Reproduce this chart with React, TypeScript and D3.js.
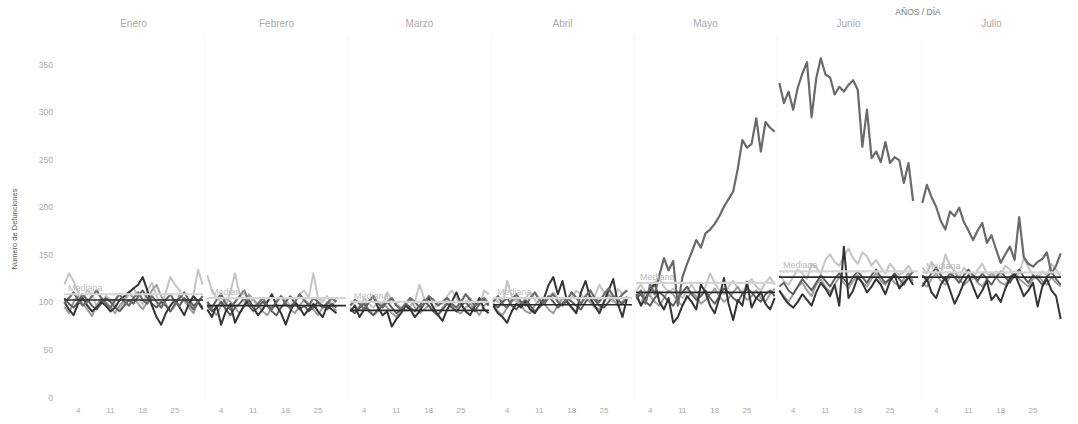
import React from "react";
import * as d3 from "d3";

const months = ["Enero", "Febrero", "Marzo", "Abril", "Mayo", "Junio", "Julio"];
const dayTicks = [4, 11, 18, 25];
const yTicks = [0, 50, 100, 150, 200, 250, 300, 350];

// Historical series (one array per month)
const serieA = [
  [118, 130, 122, 110, 104, 112, 108, 95, 100, 106, 103, 98, 92, 100, 108, 115, 104, 97, 112, 120, 106, 98, 110, 126, 118, 112, 100, 96, 108, 134, 118],
  [128, 112, 104, 100, 96, 110, 130, 108, 100, 98, 104, 96, 92, 100, 106, 98, 94, 102, 96, 100, 108, 112, 104, 130, 104, 100, 106, 96, 102],
  [100, 96, 92, 104, 98, 94, 100, 96, 110, 102, 98, 94, 90, 96, 100, 118, 104, 96, 92, 100, 98, 106, 112, 104, 96, 100, 104, 98, 96, 112, 108],
  [104, 100, 96, 122, 106, 100, 98, 104, 110, 102, 96, 100, 106, 110, 104, 100, 98, 104, 112, 108, 102, 100, 106, 118, 110, 104, 100, 114, 108, 112],
  [112, 118, 110, 106, 120, 124, 116, 110, 114, 108, 104, 112, 118, 110, 106, 116, 130, 120, 112, 108, 116, 122, 114, 110, 118, 124, 116, 112, 120, 126, 118],
  [128, 122, 118, 126, 134, 130, 124, 140, 136, 130, 144, 150, 142, 138, 148, 156, 146, 140, 152, 148, 138, 144, 136, 130, 140, 134, 128, 132, 138, 130],
  [136, 130, 142, 134, 128, 150, 138, 132, 126, 136, 130, 124, 134, 140, 130, 126, 132, 128, 138, 134, 126, 130, 146, 136, 128, 124, 132, 128, 140, 134, 126],
];
const serieB = [
  [95, 88, 100, 106, 98, 92, 85, 96, 104, 100, 94, 88, 96, 102, 110, 104, 98, 92, 100, 112, 118, 106, 98, 90, 96, 108, 102, 94, 88, 100, 106],
  [98, 92, 86, 96, 104, 100, 94, 88, 96, 108, 102, 96, 90, 86, 94, 100, 106, 98, 92, 88, 96, 102, 98, 92, 86, 94, 100, 96, 90],
  [94, 88, 96, 100, 92, 86, 90, 98, 94, 88, 84, 92, 98, 102, 94, 88, 92, 96, 90, 86, 94, 100, 96, 90, 88, 94, 98, 92, 86, 96, 100],
  [96, 90, 86, 94, 100, 104, 96, 90, 88, 96, 102, 98, 92, 88, 96, 104, 100, 94, 90, 98, 106, 100, 94, 92, 100, 108, 102, 96, 100, 106],
  [104, 98, 110, 106, 100, 96, 104, 112, 108, 100, 96, 104, 110, 106, 98, 102, 108, 114, 106, 100, 104, 110, 116, 108, 102, 106, 112, 104, 100, 108, 114],
  [112, 106, 100, 108, 116, 120, 112, 106, 118, 124, 116, 110, 118, 126, 120, 114, 122, 128, 120, 116, 124, 130, 122, 118, 126, 120, 116, 124, 130, 122],
  [120, 116, 124, 130, 122, 118, 126, 132, 124, 118, 122, 128, 120, 116, 124, 130, 126, 120, 118, 126, 132, 124, 120, 116, 124, 128, 122, 118, 126, 120, 116],
];
const serieC = [
  [100, 92, 86, 98, 104, 96, 90, 94, 100, 96, 90, 94, 102, 106, 110, 114, 118, 126, 112, 96, 84, 76, 88, 96, 102, 94, 86, 98, 106, 100, 92],
  [92, 84, 96, 76, 90, 98, 78, 88, 96, 102, 94, 86, 92, 100, 108, 96, 88, 76, 90, 100, 94, 86, 92, 98, 90, 84, 96, 92, 88],
  [90, 96, 84, 92, 100, 106, 94, 86, 90, 74, 82, 88, 96, 92, 84, 90, 98, 104, 94, 86, 80, 92, 100, 110, 98, 90, 86, 96, 104, 92, 88],
  [96, 88, 84, 78, 90, 98, 94, 100, 92, 88, 96, 104, 118, 126, 108, 122, 100, 94, 88, 110, 122, 104, 96, 88, 100, 112, 124, 98, 84, 104],
  [108, 96, 104, 112, 120, 100, 92, 104, 78, 84, 96, 106, 100, 92, 118, 110, 96, 88, 104, 125, 98, 81, 102, 96, 121, 94, 104, 110, 98, 92, 104],
  [112, 104, 98, 94, 100, 108, 102, 96, 110, 120, 114, 106, 118, 96, 158, 104, 112, 126, 120, 110, 116, 124, 118, 108, 122, 128, 114, 120, 126, 118],
  [116, 124, 110, 104, 118, 126, 112, 98, 108, 120, 128, 116, 104, 112, 122, 102, 108, 100, 114, 124, 130, 118, 106, 112, 120, 95, 116, 124, 112, 106, 82],
];
const serieD = [
  [104, 98, 94, 100, 108, 102, 96, 92, 98, 104, 100, 94, 90, 96, 102, 98, 106, 112, 104, 98, 94, 100, 96, 90, 98, 104, 110, 102, 96, 100, 94],
  [96, 90, 94, 100, 92, 86, 94, 98, 104, 96, 90, 94, 100, 96, 90, 86, 94, 100, 106, 98, 92, 96, 90, 94, 100, 96, 92, 98, 94],
  [92, 88, 94, 98, 90, 86, 92, 96, 100, 94, 88, 92, 98, 94, 90, 96, 102, 96, 90, 86, 92, 98, 94, 90, 96, 100, 94, 90, 98, 102, 96],
  [98, 94, 100, 104, 96, 92, 98, 102, 96, 90, 94, 100, 106, 100, 94, 98, 104, 100, 96, 92, 100, 106, 102, 96, 94, 100, 106, 102, 98, 104],
  [104, 108, 100, 96, 104, 110, 106, 100, 96, 104, 110, 116, 108, 102, 106, 112, 104, 98, 106, 114, 110, 104, 100, 108, 114, 110, 104, 100, 108, 112, 106],
  [116, 120, 112, 108, 116, 124, 118, 112, 120, 128, 122, 116, 124, 130, 124, 118, 126, 132, 126, 120, 128, 134, 126, 120, 124, 130, 124, 118, 126, 132],
  [128, 122, 130, 136, 128, 122, 130, 126, 120, 128, 134, 128, 122, 130, 124, 118, 126, 132, 126, 120, 128, 134, 126, 120, 128, 124, 118, 126, 132, 124, 118],
];
// Current year (with the peak)
const serie2020 = [
  [98, 104, 110, 102, 96, 100, 106, 112, 104, 98, 94, 102, 108, 100, 96, 104, 110, 102, 98, 106, 100, 94, 102, 108, 100, 96, 104, 98, 92, 100, 106],
  [100, 94, 102, 108, 98, 92, 100, 106, 112, 100, 94, 98, 104, 96, 92, 100, 106, 98, 94, 100, 108, 102, 96, 104, 100, 94, 98, 104, 100],
  [96, 102, 98, 92, 100, 106, 98, 94, 100, 104, 96, 92, 98, 104, 100, 94, 98, 106, 102, 96, 100, 104, 98, 94, 100, 108, 102, 96, 100, 104, 98],
  [100, 106, 98, 94, 102, 108, 100, 96, 104, 110, 102, 98, 104, 108, 100, 96, 102, 110, 104, 98, 106, 112, 104, 100, 108, 114, 106, 102, 108, 112],
  [105, 112, 98, 118, 108, 128, 146, 133, 143, 96, 126, 140, 152, 165, 157, 172, 176, 182, 190, 200, 208, 216, 240, 270, 262, 266, 293, 258, 289, 283, 279],
  [330, 309, 321, 302, 325, 340, 352, 294, 335, 356, 339, 336, 318, 326, 321, 328, 333, 323, 263, 302, 251, 258, 247, 268, 246, 252, 249, 225, 246, 206],
  [204, 223, 210, 200, 185, 176, 195, 190, 199, 184, 175, 165, 175, 183, 162, 170, 155, 141, 150, 158, 144, 189, 147, 140, 137, 142, 145, 152, 130, 138, 151],
];
const medianaMes = [108, 104, 100, 104, 120, 132, 131];
const promedioMes = [102, 96, 91, 97, 110, 126, 126];

const seriesList = [
  { data: serieA, color: "#c4c4c4", width: 2 },
  { data: serieB, color: "#9c9c9c", width: 1.9 },
  { data: serieD, color: "#5c5c5c", width: 1.9 },
  { data: serieC, color: "#343434", width: 2 },
  { data: serie2020, color: "#6a6a6a", width: 2.2 },
];

const W = 1078;
const H = 424;
const left = 62;
const pitch = 143;

export default function App() {
  const y = d3.scaleLinear().domain([0, 350]).range([397, 64]);
  const panelX = (i: number) =>
    d3.scaleLinear().domain([0.5, 31.5]).range([left + i * pitch, left + (i + 1) * pitch]);
  const font = "'Liberation Sans', Arial, sans-serif";

  return (
    <svg width={W} height={H} style={{ position: "absolute", left: 0, top: 0, background: "#fff" }} fontFamily={font}>
      <text x={918} y={15} fontSize={8.5} fill="#777" textAnchor="middle">AÑOS / DÍA</text>
      {/* y axis */}
      <text transform={`translate(17,229) rotate(-90)`} fontSize={7.5} fill="#555" textAnchor="middle">
        Número de Defunciones
      </text>
      {yTicks.map((t) => (
        <text key={t} x={53} y={y(t) + 3.5} fontSize={8.5} fill="#aaa" textAnchor="end">{t}</text>
      ))}
      {months.map((m, i) => {
        const x = panelX(i);
        const line = d3
          .line<number>()
          .x((_, k) => x(k + 1))
          .y((v) => y(v))
          .curve(d3.curveLinear);
        const x0 = left + i * pitch;
        return (
          <g key={m}>
            {i > 0 && <line x1={x0} x2={x0} y1={34} y2={400} stroke="#f6f6f6" strokeWidth={1} />}
            <text x={x(16)} y={27} fontSize={10} fill="#aaa" textAnchor="middle">{m}</text>
            {dayTicks.map((d) => (
              <text key={d} x={x(d)} y={413} fontSize={8} fill="#aaa" textAnchor="middle">{d}</text>
            ))}
            {seriesList.map((s, si) => (
              <path key={si} d={line(s.data[i]) || ""} fill="none" stroke={s.color} strokeWidth={s.width} strokeLinejoin="round" />
            ))}
            <line x1={x0 + 2} x2={x0 + pitch - 2} y1={y(medianaMes[i])} y2={y(medianaMes[i])} stroke="#d4d4d4" strokeWidth={2.2} />
            <text x={x0 + 6} y={y(medianaMes[i]) - 3} fontSize={9} fill="#bbb">Mediana</text>
            <line x1={x0 + 2} x2={x0 + pitch - 2} y1={y(promedioMes[i])} y2={y(promedioMes[i])} stroke="#2a2a2a" strokeWidth={1.6} />
          </g>
        );
      })}
    </svg>
  );
}
